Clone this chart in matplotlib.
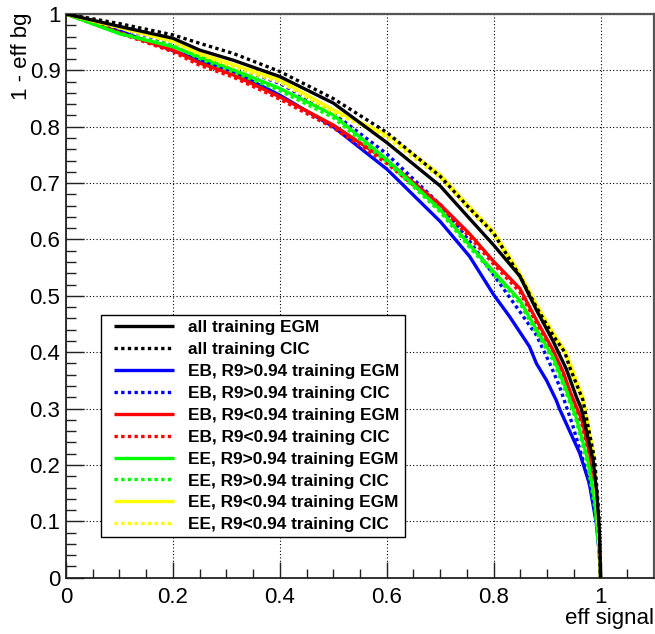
import numpy as np
import matplotlib.pyplot as plt
from matplotlib.ticker import MultipleLocator, FuncFormatter
from matplotlib.legend_handler import HandlerLine2D

plt.rcParams['font.family'] = ['Liberation Sans', 'DejaVu Sans']

labels = ['all training EGM', 'all training CIC',
          'EB, R9>0.94 training EGM', 'EB, R9>0.94 training CIC',
          'EB, R9<0.94 training EGM', 'EB, R9<0.94 training CIC',
          'EE, R9>0.94 training EGM', 'EE, R9>0.94 training CIC',
          'EE, R9<0.94 training EGM', 'EE, R9<0.94 training CIC']
colors = ['black', 'black', '#0000ff', '#0000ff', '#ff0000', '#ff0000',
          '#00ff00', '#00ff00', '#ffff00', '#ffff00']
dotted = [False, True] * 5

# signal efficiency / (1 - background efficiency) points
all_egm_x = [0, 0.1, 0.2, 0.25, 0.313, 0.4, 0.5, 0.6, 0.7, 0.755, 0.8, 0.849, 0.88, 0.911, 0.936, 0.955, 0.964, 0.986, 0.993, 0.998, 1.0]
all_egm_y = [1, 0.978, 0.957, 0.936, 0.918, 0.889, 0.842, 0.772, 0.695, 0.637, 0.59, 0.535, 0.475, 0.42, 0.37, 0.32, 0.30, 0.209, 0.15, 0.08, 0]
all_cic_x = [0, 0.1, 0.2, 0.25, 0.313, 0.4, 0.5, 0.6, 0.7, 0.755, 0.8, 0.849, 0.88, 0.911, 0.933, 0.942, 0.967, 0.989, 0.997, 1.0]
all_cic_y = [1, 0.983, 0.963, 0.948, 0.930, 0.898, 0.850, 0.790, 0.712, 0.655, 0.611, 0.535, 0.48, 0.43, 0.40, 0.374, 0.315, 0.209, 0.11, 0]
ebhi_egm_x = [0, 0.1, 0.2, 0.25, 0.313, 0.4, 0.5, 0.6, 0.7, 0.755, 0.8, 0.83, 0.867, 0.88, 0.899, 0.917, 0.923, 0.961, 0.979, 0.992, 0.998, 1.0]
ebhi_egm_y = [1, 0.970, 0.935, 0.918, 0.898, 0.856, 0.80, 0.725, 0.632, 0.57, 0.502, 0.463, 0.41, 0.38, 0.35, 0.315, 0.30, 0.221, 0.167, 0.097, 0.04, 0]
ebhi_cic_x = [0, 0.1, 0.2, 0.25, 0.313, 0.4, 0.5, 0.6, 0.7, 0.755, 0.8, 0.849, 0.88, 0.905, 0.923, 0.948, 0.976, 0.992, 0.998, 1.0]
ebhi_cic_y = [1, 0.975, 0.948, 0.927, 0.907, 0.877, 0.824, 0.752, 0.662, 0.597, 0.537, 0.472, 0.43, 0.38, 0.34, 0.27, 0.179, 0.109, 0.04, 0]
eblo_egm_x = [0, 0.1, 0.2, 0.25, 0.313, 0.4, 0.5, 0.6, 0.7, 0.755, 0.8, 0.849, 0.88, 0.911, 0.93, 0.945, 0.965, 0.98, 0.992, 0.998, 1.0]
eblo_egm_y = [1, 0.967, 0.936, 0.913, 0.892, 0.853, 0.803, 0.740, 0.662, 0.61, 0.561, 0.513, 0.457, 0.404, 0.365, 0.325, 0.28, 0.22, 0.138, 0.06, 0]
eblo_cic_x = [0, 0.1, 0.2, 0.25, 0.313, 0.4, 0.5, 0.6, 0.7, 0.755, 0.8, 0.849, 0.88, 0.911, 0.93, 0.945, 0.965, 0.98, 0.992, 0.998, 1.0]
eblo_cic_y = [1, 0.966, 0.933, 0.909, 0.888, 0.849, 0.798, 0.735, 0.657, 0.605, 0.556, 0.507, 0.452, 0.398, 0.358, 0.318, 0.272, 0.212, 0.13, 0.05, 0]
eehi_egm_x = [0, 0.1, 0.2, 0.25, 0.313, 0.4, 0.5, 0.6, 0.7, 0.755, 0.8, 0.849, 0.88, 0.911, 0.936, 0.954, 0.976, 0.989, 0.997, 1.0]
eehi_egm_y = [1, 0.965, 0.942, 0.924, 0.901, 0.868, 0.821, 0.742, 0.653, 0.59, 0.543, 0.492, 0.44, 0.392, 0.333, 0.286, 0.209, 0.138, 0.05, 0]
eehi_cic_x = [0, 0.1, 0.2, 0.25, 0.313, 0.4, 0.5, 0.6, 0.7, 0.755, 0.8, 0.849, 0.88, 0.911, 0.936, 0.954, 0.976, 0.99, 0.998, 1.0]
eehi_cic_y = [1, 0.966, 0.944, 0.921, 0.897, 0.864, 0.816, 0.738, 0.649, 0.586, 0.539, 0.487, 0.435, 0.386, 0.327, 0.28, 0.20, 0.12, 0.04, 0]
eelo_egm_x = [0, 0.1, 0.2, 0.25, 0.313, 0.4, 0.5, 0.6, 0.7, 0.755, 0.8, 0.849, 0.88, 0.911, 0.935, 0.955, 0.967, 0.985, 0.995, 1.0]
eelo_egm_y = [1, 0.976, 0.952, 0.930, 0.910, 0.883, 0.830, 0.786, 0.715, 0.658, 0.614, 0.54, 0.485, 0.435, 0.40, 0.35, 0.32, 0.23, 0.12, 0]
eelo_cic_x = [0, 0.1, 0.2, 0.25, 0.313, 0.4, 0.5, 0.6, 0.7, 0.755, 0.8, 0.849, 0.88, 0.911, 0.932, 0.965, 0.985, 0.995, 1.0]
eelo_cic_y = [1, 0.975, 0.950, 0.928, 0.906, 0.879, 0.826, 0.781, 0.709, 0.652, 0.608, 0.532, 0.478, 0.428, 0.40, 0.315, 0.22, 0.11, 0]

curves_x = [all_egm_x, all_cic_x, ebhi_egm_x, ebhi_cic_x, eblo_egm_x, eblo_cic_x,
            eehi_egm_x, eehi_cic_x, eelo_egm_x, eelo_cic_x]
curves_y = [all_egm_y, all_cic_y, ebhi_egm_y, ebhi_cic_y, eblo_egm_y, eblo_cic_y,
            eehi_egm_y, eehi_cic_y, eelo_egm_y, eelo_cic_y]

fig = plt.figure(figsize=(6.55, 6.34), dpi=100)
ax = fig.add_axes([0.1008, 0.0888, 0.8977, 0.8891])

# colours first, black ones on top (as in the picture)
zorders = [12, 13, 3, 4, 5, 6, 7, 8, 9, 10]
handles = []
for i in range(len(labels)):
    ls = (0, (1, 1)) if dotted[i] else '-'
    h, = ax.plot(curves_x[i], curves_y[i], color=colors[i], lw=2.4, ls=ls,
                 label=labels[i], zorder=zorders[i], solid_capstyle='butt',
                 dash_capstyle='butt', solid_joinstyle='round')
    handles.append(h)

ax.set_xlim(0, 1.1)
ax.set_ylim(0, 1)
ax.xaxis.set_major_locator(MultipleLocator(0.2))
ax.xaxis.set_minor_locator(MultipleLocator(0.05))
ax.yaxis.set_major_locator(MultipleLocator(0.1))
ax.yaxis.set_minor_locator(MultipleLocator(0.02))
fmt = FuncFormatter(lambda v, p: '%g' % round(v, 2))
ax.xaxis.set_major_formatter(fmt)
ax.yaxis.set_major_formatter(fmt)

ax.tick_params(axis='both', which='both', direction='in', top=False, right=False,
               labelsize=16, width=1, color='#222222')
ax.tick_params(axis='x', which='major', length=11.5, pad=7)
ax.tick_params(axis='x', which='minor', length=6.5)
ax.tick_params(axis='y', which='major', length=13, pad=4)
ax.tick_params(axis='y', which='minor', length=7)

ax.grid(True, which='major', color='black', ls=(0, (1, 2)), lw=0.8)
ax.set_axisbelow(True)
for s in ['left', 'bottom']:
    ax.spines[s].set_color('#222222')
    ax.spines[s].set_linewidth(1.3)
for s in ['top', 'right']:
    ax.spines[s].set_color('#555555')
    ax.spines[s].set_linewidth(1.6)

fig.text(0.9985, 0.0237, 'eff signal', ha='right', va='center', fontsize=16)
fig.text(0.033, 0.981, '1 - eff bg', ha='center', va='top', rotation=90, fontsize=16)

leg = ax.legend(handles=handles, loc='upper left',
                bbox_to_anchor=(0.0595, 0.0704, 0.5175, 0.3956), mode='expand',
                prop={'weight': 'bold', 'size': 12.4}, handlelength=3.94,
                handletextpad=0.81, labelspacing=0.4, borderpad=0.28,
                borderaxespad=0, fancybox=False, framealpha=1, edgecolor='black',
                handler_map={h: HandlerLine2D(xpad=0.45) for h in handles})
leg.get_frame().set_linewidth(1.0)
leg.set_zorder(20)

fig.savefig('out.png', dpi=100)
